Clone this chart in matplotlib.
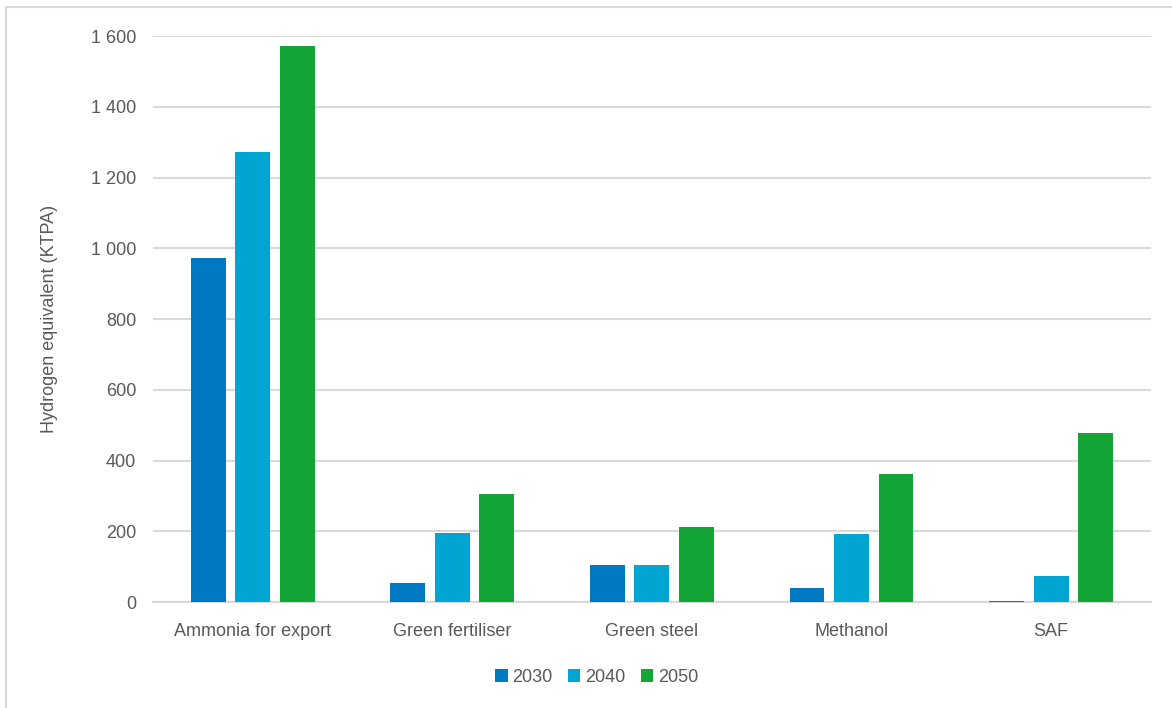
import numpy as np
import matplotlib.pyplot as plt
from matplotlib.patches import Rectangle
from matplotlib.ticker import FuncFormatter

# Hydrogen demand by end use, kilotonnes per annum
categories = ['Ammonia for export', 'Green fertiliser', 'Green steel', 'Methanol', 'SAF']
years = ['2030', '2040', '2050']
h2_2030 = [972, 53, 105, 40, 2]
h2_2040 = [1272, 194, 105, 192, 73]
h2_2050 = [1573, 305, 211, 361, 477]

colors = ['#0079C2', '#00A5D1', '#14A538']
text_grey = '#595959'

plt.rcParams['font.family'] = ['Liberation Sans Narrow', 'Liberation Sans', 'DejaVu Sans']

fig = plt.figure(figsize=(11.72, 7.08), dpi=100)
ax = fig.add_axes([0.1305, 0.1497, 0.8515, 0.7994])

# light frame around the chart area (left and top edges only visible)
fig.patches.append(Rectangle((6 / 1172, -0.1), 1.2, 1 - 7 / 708 + 0.1,
                             transform=fig.transFigure, fill=False,
                             edgecolor='#D9D9D9', linewidth=1.5))

x = np.arange(len(categories))
width = 0.175
step = 0.223
for i, (vals, yr) in enumerate(zip([h2_2030, h2_2040, h2_2050], years)):
    ax.bar(x + (i - 1) * step, vals, width, color=colors[i], label=yr, zorder=3)

ax.set_xlim(-0.5, len(categories) - 0.5)
ax.set_ylim(0, 1600)
ax.set_yticks(range(0, 1601, 200))
ax.yaxis.set_major_formatter(FuncFormatter(lambda v, p: f'{int(v):,}'.replace(',', ' ')))
ax.set_xticks(x)
ax.set_xticklabels(categories)

ax.grid(axis='y', color='#D9D9D9', linewidth=1.5, zorder=0)
for s in ['top', 'right', 'left']:
    ax.spines[s].set_visible(False)
ax.spines['bottom'].set_color('#D9D9D9')
ax.spines['bottom'].set_linewidth(1.5)
ax.tick_params(axis='both', length=0, labelsize=13, colors=text_grey)
ax.tick_params(axis='x', pad=15)
ax.tick_params(axis='y', pad=12)

ax.set_ylabel('Hydrogen equivalent (KTPA)', fontsize=13, color=text_grey, labelpad=24)

fig.legend(loc='center', bbox_to_anchor=(0.509, 1 - 677 / 708), ncol=3, frameon=False,
           fontsize=13, labelcolor=text_grey, handlelength=0.7, handleheight=0.7,
           handletextpad=0.25, columnspacing=0.85)

fig.savefig('out.png', dpi=100)
